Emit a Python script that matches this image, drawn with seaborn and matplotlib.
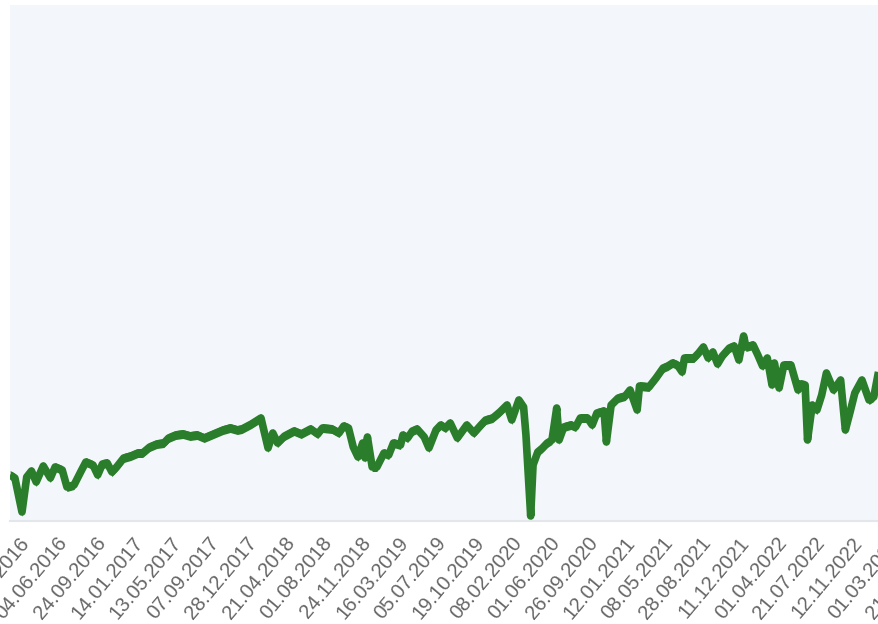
import matplotlib
matplotlib.use("Agg")
import matplotlib.pyplot as plt
from matplotlib.transforms import ScaledTranslation
import numpy as np
import pandas as pd
import seaborn as sns

sns.set_style("white")
plt.rcParams["font.family"] = ["Liberation Sans", "DejaVu Sans"]

# ─── Data (weekly index) ───────────────────────────────────────────────────
weeks = [-5, -3, 0, 2, 4, 6, 9, 12, 14, 17, 19, 22, 25, 27, 30, 32, 34, 36, 38, 40,
         43, 46, 49, 51, 54, 57, 60, 62, 65, 68, 71, 74, 77, 79, 82, 85, 88, 91, 93, 97,
         101, 104, 106, 108, 111, 115, 118, 122, 125, 127, 131, 134, 136, 138, 140, 142,
         144, 145, 146, 148, 150, 153, 155, 157, 160, 161, 163, 165, 167, 170, 172, 175,
         177, 179, 181, 184, 188, 191, 194, 196, 199, 202, 205, 207, 210, 212, 213, 215,
         216, 218, 220, 222, 224, 226, 227, 229, 232, 234, 236, 239, 241, 243, 246, 247,
         249, 252, 255, 257, 260, 261, 265, 268, 271, 273, 275, 277, 279, 280, 284, 286,
         288, 290, 292, 294, 296, 299, 301, 303, 305, 306, 309, 311, 313, 315, 317, 318,
         320, 322, 325, 328, 329, 331, 332, 334, 336, 338, 340, 343, 346, 348, 350, 352,
         355, 358, 360, 362]
levels = [46, 43, 9, 44, 50, 39, 55, 43, 54, 51, 34, 36, 50, 59, 56, 46, 57, 58, 49, 54,
          63, 65, 68, 68, 74, 77, 78, 83, 86, 87, 85, 86, 83, 85, 88, 91, 93, 91, 92, 97,
          103, 73, 88, 78, 85, 90, 87, 92, 87, 93, 92, 88, 95, 93, 74, 64,
          78, 63, 84, 54, 54, 68, 66, 78, 76, 86, 83, 90, 92, 84, 73, 91,
          96, 93, 98, 83, 96, 88, 96, 101, 103, 109, 116, 101, 121, 114, 86, 5,
          56, 69, 73, 78, 81, 113, 81, 94, 96, 94, 103, 103, 96, 108, 110, 79,
          116, 123, 125, 131, 111, 135, 134, 143, 153, 155, 158, 156, 149, 163, 163, 168,
          174, 163, 169, 157, 165, 173, 175, 161, 185, 174, 176, 166, 155, 163, 136, 158,
          133, 156, 156, 131, 137, 136, 81, 116, 111, 126, 148, 131, 141, 91, 109, 128,
          141, 121, 124, 149]

tick_weeks = list(range(0, 400, 16))
tick_labels = ["13.02.2016", "04.06.2016", "24.09.2016", "14.01.2017", "13.05.2017",
               "07.09.2017", "28.12.2017", "21.04.2018", "01.08.2018", "24.11.2018",
               "16.03.2019", "05.07.2019", "19.10.2019", "08.02.2020", "01.06.2020",
               "26.09.2020", "12.01.2021", "08.05.2021", "28.08.2021", "11.12.2021",
               "01.04.2022", "21.07.2022", "12.11.2022", "01.03.2023", "21.06.2023"]

LINE_COLOR = "#2a7d2a"
BAND_HALF = 4.5  # half thickness of the drawn band, in axis units

df = pd.DataFrame({"week": weeks, "level": levels})

# ─── Figure ────────────────────────────────────────────────────────────────
fig = plt.figure(figsize=(8.79, 6.24), dpi=100)
# axes runs past the right edge, the picture is a cropped view
ax = fig.add_axes([10 / 879, 103 / 624, 930 / 879, 516 / 624])
ax.set_facecolor("#f3f6fa")

# thick stroke, plus a filled band so spikes keep sharp tips
sns.lineplot(data=df, x="week", y="level", ax=ax, color=LINE_COLOR,
             linewidth=5.5, solid_joinstyle="round", solid_capstyle="butt")
lv = np.asarray(levels, dtype=float)
ax.fill_between(weeks, lv - BAND_HALF, lv + BAND_HALF, color=LINE_COLOR, linewidth=0)

ax.set_xlim(-5.07, 388.0)
ax.set_ylim(0, 516)
ax.set_xlabel("")
ax.set_ylabel("")
ax.set_yticks([])

ax.set_xticks(tick_weeks[:len(tick_labels)])
ax.set_xticklabels(tick_labels, rotation=50, ha="right", va="top",
                   rotation_mode="anchor", fontsize=14.5, color="#666666")
ax.tick_params(axis="x", length=0, pad=9)
for lbl in ax.get_xticklabels():
    lbl.set_transform(lbl.get_transform() + ScaledTranslation(-0.03, 0, fig.dpi_scale_trans))

for side in ["top", "left", "right"]:
    ax.spines[side].set_visible(False)
ax.spines["bottom"].set_color("#e3e6ea")
ax.spines["bottom"].set_linewidth(1.5)

plt.savefig("out.png", dpi=100)
plt.close()
